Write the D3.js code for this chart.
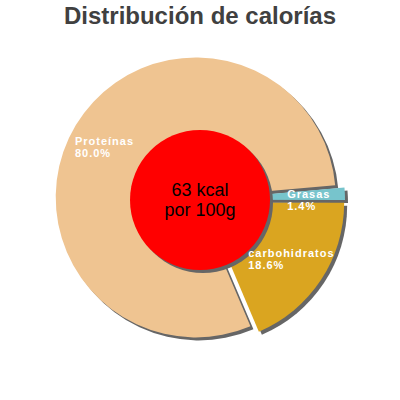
<!DOCTYPE html>
<html><head><meta charset="utf-8">
<script src="https://cdn.jsdelivr.net/npm/d3@7"></script>
<style>body{margin:0;background:#fff}svg{display:block}</style>
</head><body>
<svg id="c" width="400" height="400"></svg>
<script>
const categories = ["Proteínas", "Grasas", "carbohidratos"];
const values = [80.0, 1.4, 18.6];
const percentLabels = ["80.0%", "1.4%", "18.6%"];
const colors = ["#EFC491", "#77C4CC", "#DAA520"];
const centerLines = ["63 kcal", "por 100g"];
const title = "Distribución de calorías";

const W = 400, H = 400, cx = 200, cy = 200, R = 140, r0 = 70, explode = 5;
const deg = Math.PI / 180;
const font = "'Liberation Sans', Arial, sans-serif";
// label placement (polar from centre): angle in degrees, radius in px
const labelPolar = [[297.5, 141], [82, 88], [134, 67]];

const svg = d3.select("#c");
svg.append("text").attr("x", W / 2).attr("y", 24).attr("text-anchor", "middle")
  .attr("font-family", font).attr("font-weight", "bold").attr("font-size", 24)
  .attr("fill", "#404040").text(title);

const pie = d3.pie().sort(null).startAngle(157 * deg).endAngle(517 * deg);
const arcs = pie(values);
const arc = d3.arc().innerRadius(0).outerRadius(R);
const off = d => {
  const m = (d.startAngle + d.endAngle) / 2;
  return [explode * Math.sin(m), -explode * Math.cos(m)];
};
const g = svg.append("g").attr("transform", `translate(${cx},${cy})`);
g.selectAll("path.sh").data(arcs).join("path").attr("class", "sh")
  .attr("d", arc).attr("fill", "#666")
  .attr("transform", d => { const o = off(d); return `translate(${o[0] + 3},${o[1] + 3})`; });
g.selectAll("path.sl").data(arcs).join("path").attr("class", "sl")
  .attr("d", arc).attr("fill", (d, i) => colors[i])
  .attr("transform", d => { const o = off(d); return `translate(${o[0]},${o[1]})`; });

g.append("circle").attr("cx", 3).attr("cy", 3).attr("r", r0).attr("fill", "#666");
g.append("circle").attr("r", r0).attr("fill", "#FF0000");

centerLines.forEach((t, i) => g.append("text").attr("text-anchor", "middle")
  .attr("font-family", font).attr("font-size", 18).attr("fill", "#000")
  .attr("x", 0).attr("y", -4 + i * 19.5).text(t));

arcs.forEach((d, i) => {
  const [a, rr] = labelPolar[i];
  const x = rr * Math.sin(a * deg), y = -rr * Math.cos(a * deg);
  [categories[i], percentLabels[i]].forEach((t, j) => g.append("text")
    .attr("font-family", font).attr("font-weight", "bold").attr("font-size", 11)
    .attr("letter-spacing", 1.0).attr("fill", "#fff")
    .attr("x", x).attr("y", y + 10 + j * 12.5).text(t));
});
</script>
</body></html>
